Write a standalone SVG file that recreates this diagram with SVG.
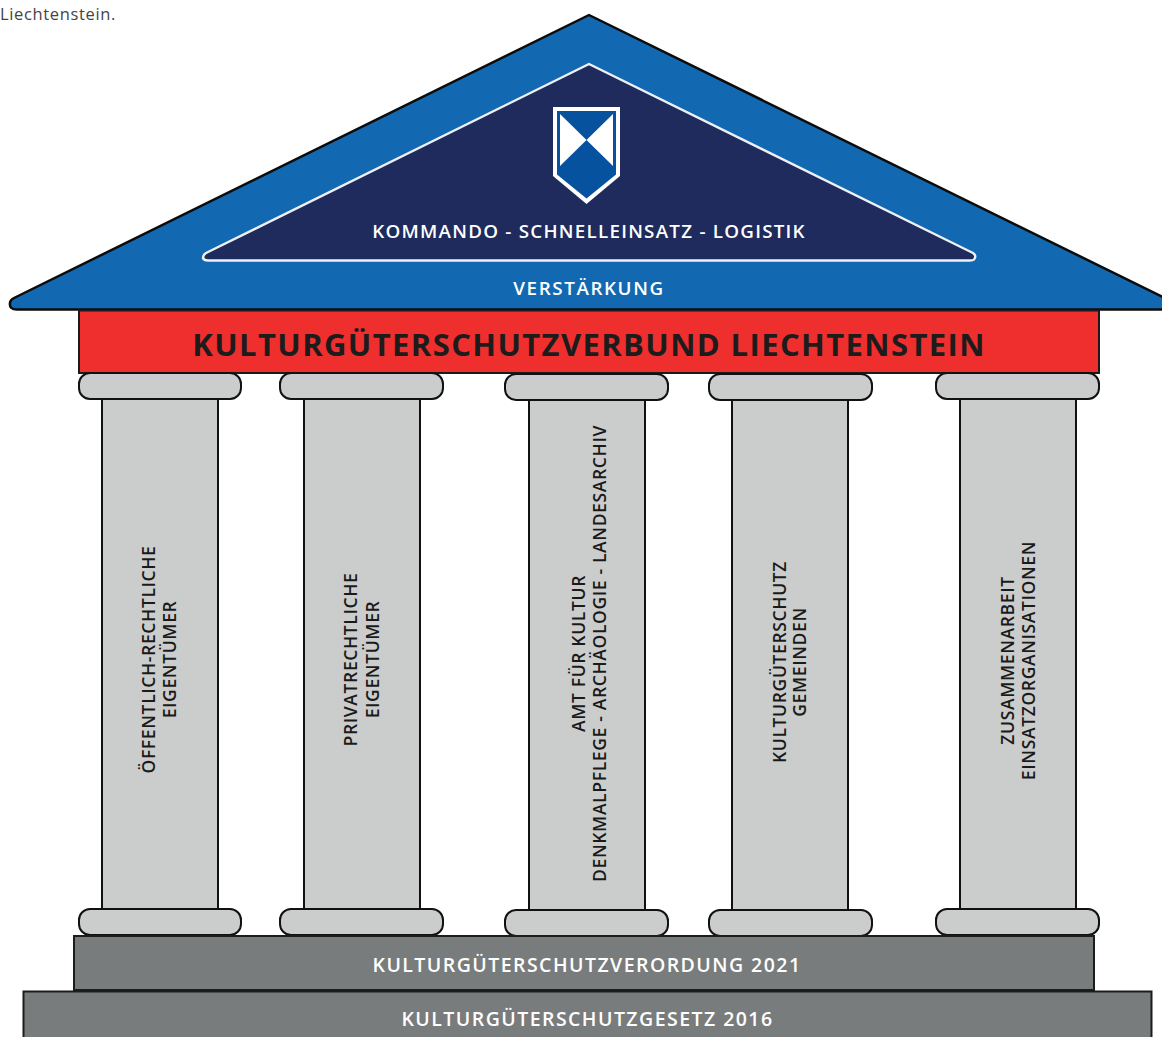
<svg xmlns="http://www.w3.org/2000/svg" width="1162" height="1037" viewBox="0 0 1162 1037">
<style>
text{font-family:"Open Sans","Noto Sans","Liberation Sans",sans-serif;font-weight:600;text-anchor:middle}
.s{fill:#cbcdcc;stroke:#111;stroke-width:2}
.p{fill:#797c7c;stroke:#1c1c1c;stroke-width:2}
.w{fill:#fff;font-size:18.800px;letter-spacing:1.25px}
.b{fill:#fff;font-size:19.500px;letter-spacing:1.45px}
.c{fill:#1a1a1a;font-size:17.500px;letter-spacing:.65px}
</style>
<rect width="1162" height="1037" fill="#fff"/>
<text id="caption" x="0" y="20" style="font-size:16.500px;font-weight:400;text-anchor:start;letter-spacing:.65px;fill:#444">Liechtenstein.</text>
<g id="roof">
<path d="M589 15 1175 303Q1180 309 1172 309.500L17 309.500Q9 309.500 10 303Q10 300 14 298L589 15Z" fill="#1369b1" stroke="#0c0c0c" stroke-width="2.500" stroke-linejoin="round"/>
<path d="M589 64 973 253Q977 256 974 259.500Q973 260.500 970 260.500L208 260.500Q204 260.500 203 258Q203 255 206 253Z" fill="#1e2b5c" stroke="#eef0f5" stroke-width="2.400" stroke-linejoin="round"/>
<path d="M553 107H620V176L586.500 204 553 176Z" fill="#fff"/>
<path d="M557 111H616V174.500L586.500 198.500 557 174.500Z" fill="#06529e"/>
<path d="M560 114V166L586.500 140ZM613 114V166L586.500 140Z" fill="#fff"/>
<text class="w" x="589" y="238">KOMMANDO - SCHNELLEINSATZ - LOGISTIK</text>
<text class="w" x="589" y="295" style="letter-spacing:1.6px">VERSTÄRKUNG</text>
</g>
<g id="beam">
<rect x="79" y="310.500" width="1020" height="62.500" fill="#ef2e2e" stroke="#1a1a1a" stroke-width="2"/>
<text x="589" y="356" style="font-size:31px;font-weight:700;letter-spacing:1.400px;fill:#1c1c1c">KULTURGÜTERSCHUTZVERBUND LIECHTENSTEIN</text>
</g>
<g id="column1">
<rect class="s" x="102" y="398" width="116" height="511"/>
<rect class="s" x="79" y="373" width="162" height="26" rx="11"/>
<rect class="s" x="79" y="909" width="162" height="26" rx="11"/>
<text class="c" transform="translate(155 659.500) rotate(-90)">ÖFFENTLICH-RECHTLICHE</text>
<text class="c" transform="translate(176 659.500) rotate(-90)">EIGENTÜMER</text>
</g>
<g id="column2">
<rect class="s" x="304" y="398" width="116" height="511"/>
<rect class="s" x="280" y="373" width="163" height="26" rx="11"/>
<rect class="s" x="280" y="909" width="163" height="26" rx="11"/>
<text class="c" transform="translate(357 659.500) rotate(-90)">PRIVATRECHTLICHE</text>
<text class="c" transform="translate(379 659.500) rotate(-90)">EIGENTÜMER</text>
</g>
<g id="column3">
<rect class="s" x="529" y="399" width="116" height="511"/>
<rect class="s" x="505" y="374" width="163" height="26" rx="11"/>
<rect class="s" x="505" y="910" width="163" height="26" rx="11"/>
<text class="c" transform="translate(585 653.500) rotate(-90)">AMT FÜR KULTUR</text>
<text class="c" transform="translate(606 653.500) rotate(-90)">DENKMALPFLEGE - ARCHÄOLOGIE - LANDESARCHIV</text>
</g>
<g id="column4">
<rect class="s" x="732" y="399" width="116" height="511"/>
<rect class="s" x="709" y="374" width="163" height="26" rx="11"/>
<rect class="s" x="709" y="910" width="163" height="26" rx="11"/>
<text class="c" transform="translate(786 662) rotate(-90)">KULTURGÜTERSCHUTZ</text>
<text class="c" transform="translate(806 662) rotate(-90)">GEMEINDEN</text>
</g>
<g id="column5">
<rect class="s" x="960" y="398" width="116" height="511"/>
<rect class="s" x="936" y="373" width="163" height="26" rx="11"/>
<rect class="s" x="936" y="909" width="163" height="26" rx="11"/>
<text class="c" transform="translate(1014 660.500) rotate(-90)">ZUSAMMENARBEIT</text>
<text class="c" transform="translate(1035 660.500) rotate(-90)">EINSATZORGANISATIONEN</text>
</g>
<g id="plinth1">
<rect class="p" x="74" y="936" width="1020" height="54"/>
<text class="b" x="587" y="972">KULTURGÜTERSCHUTZVERORDUNG 2021</text>
</g>
<g id="plinth2">
<rect class="p" x="23.500" y="991.500" width="1128" height="60"/>
<text class="b" x="587.500" y="1026">KULTURGÜTERSCHUTZGESETZ 2016</text>
</g>
<g id="connectors"></g>
</svg>
